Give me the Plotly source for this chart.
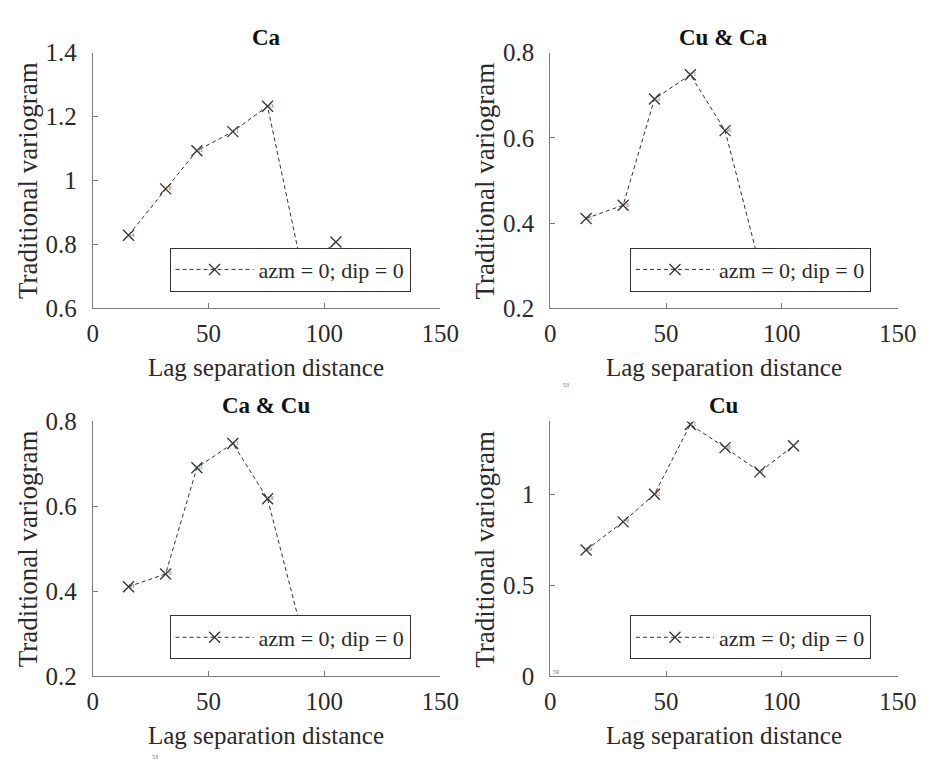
import plotly.graph_objects as go

# ---- data ----
titles = ["Ca", "Cu & Ca", "Ca & Cu", "Cu"]
legend_label = "azm = 0; dip = 0"

lag_ca = [15.5, 31.5, 45, 60.5, 75.5, 90.5, 105]
gam_ca = [0.829, 0.974, 1.093, 1.153, 1.232, 0.72, 0.808]
pairs_ca = ["54", "76", "81", "71", "33", "", ""]

lag_cuca = [15.5, 31.5, 45, 60.5, 75.5, 90.5]
gam_cuca = [0.411, 0.442, 0.691, 0.748, 0.617, 0.30]
pairs_cuca = ["55", "76", "81", "71", "36", ""]

lag_cacu = [15.5, 31.5, 45, 60.5, 75.5, 90.5]
gam_cacu = [0.411, 0.441, 0.691, 0.748, 0.618, 0.30]
pairs_cacu = ["53", "76", "81", "71", "59", ""]

lag_cu = [15.5, 31.5, 45, 60.5, 75.5, 90.5, 105]
gam_cu = [0.694, 0.848, 1.0, 1.383, 1.256, 1.123, 1.266]
pairs_cu = ["59", "76", "81", "71", "36", "3", ""]

x_ticks = [0, 50, 100, 150]
y_ranges = [[0.6, 1.4], [0.2, 0.8], [0.2, 0.8], [0, 1.4]]
y_ticks = [[0.6, 0.8, 1.0, 1.2, 1.4], [0.2, 0.4, 0.6, 0.8], [0.2, 0.4, 0.6, 0.8], [0, 0.5, 1.0]]

series = [(lag_ca, gam_ca, pairs_ca), (lag_cuca, gam_cuca, pairs_cuca),
          (lag_cacu, gam_cacu, pairs_cacu), (lag_cu, gam_cu, pairs_cu)]

# ---- layout geometry (pixels of a 942x783 page) ----
W, H = 942, 783
FONT = "Liberation Serif, Times New Roman, DejaVu Serif, serif"
INK = "#2a2a2a"
AX = "#7a7a7a"

col_px = [(89, 446), (559, 916)]
row_px = [(41, 306), (423, 687)]
legend_px = [(168, 243), (641, 243), (168, 624), (641, 624)]

fig = go.Figure()
layout = dict(
    width=W, height=H, margin=dict(l=0, r=0, t=0, b=0),
    paper_bgcolor="white", plot_bgcolor="white",
    font=dict(family=FONT, size=20, color=INK),
    annotations=[],
)

for i, (lx, ly, lp) in enumerate(series):
    r, c = divmod(i, 2)
    sfx = "" if i == 0 else str(i + 1)
    xa, ya = "x" + sfx, "y" + sfx
    leg = "legend" + sfx
    x0, x1 = col_px[c]
    y0, y1 = row_px[r]
    fig.add_trace(go.Scatter(
        x=lx, y=ly, mode="lines+markers", name=legend_label,
        xaxis=xa, yaxis=ya, legend=leg,
        line=dict(color="#333333", width=1, dash="4px,3px"),
        marker=dict(symbol="x-thin", size=11, line=dict(color="#333333", width=1.3)),
        cliponaxis=True,
    ))
    fig.add_trace(go.Scatter(
        x=lx, y=ly, mode="text", text=lp, textposition="middle right",
        textfont=dict(size=6, color="#666666", family=FONT),
        xaxis=xa, yaxis=ya, showlegend=False, hoverinfo="skip", cliponaxis=False,
    ))
    layout["xaxis" + sfx] = dict(
        domain=[x0 / W, x1 / W], anchor=ya, range=[0, 150], tickvals=x_ticks,
        ticks="inside", ticklen=5, tickcolor=AX, showline=True, linecolor=AX,
        linewidth=1, showgrid=False, zeroline=False, ticklabelstandoff=3,
        tickfont=dict(size=25, color=INK), fixedrange=True,
    )
    layout["yaxis" + sfx] = dict(
        domain=[1 - y1 / H, 1 - y0 / H], anchor=xa, range=y_ranges[i],
        tickvals=y_ticks[i], ticks="inside", ticklen=5, tickcolor=AX,
        showline=True, linecolor=AX, linewidth=1, showgrid=False, zeroline=False,
        ticklabelstandoff=10,
        tickfont=dict(size=25, color=INK), fixedrange=True,
    )
    lgx, lgy = legend_px[i]
    layout[leg] = dict(
        x=lgx / W, y=1 - lgy / H, xanchor="left", yanchor="top",
        xref="paper", yref="paper",
        bgcolor="white", bordercolor="#333333", borderwidth=1,
        font=dict(family=FONT, size=22, color=INK), itemwidth=78,
        tracegroupgap=0,
    )
    cx = (x0 + x1) / 2
    # subplot title
    layout["annotations"].append(dict(
        text="<b>" + titles[i] + "</b>", x=cx / W, y=1 - (y0 - 16) / H,
        xref="paper", yref="paper", showarrow=False, xanchor="center", yanchor="middle",
        font=dict(family=FONT, size=23, color="#111111"),
    ))
    # x axis title
    layout["annotations"].append(dict(
        text="Lag separation distance", x=cx / W, y=1 - (y1 + 61) / H,
        xref="paper", yref="paper", showarrow=False, xanchor="center", yanchor="middle",
        font=dict(family=FONT, size=25, color=INK),
    ))
    # y axis title
    layout["annotations"].append(dict(
        text="Traditional variogram", x=(x0 - 67) / W, y=1 - ((y0 + y1) / 2) / H,
        xref="paper", yref="paper", showarrow=False, xanchor="center", yanchor="middle",
        textangle=-90, font=dict(family=FONT, size=27, color=INK),
    ))

# stray tiny labels seen in the picture
for txt, px, py in [("53", 575, 385), ("53", 148, 776), ("59", 565, 688)]:
    layout["annotations"].append(dict(
        text=txt, x=px / W, y=1 - py / H, xref="paper", yref="paper",
        showarrow=False, font=dict(size=6, color="#666666", family=FONT),
    ))

fig.update_layout(**layout)
fig.write_html("out.html")
